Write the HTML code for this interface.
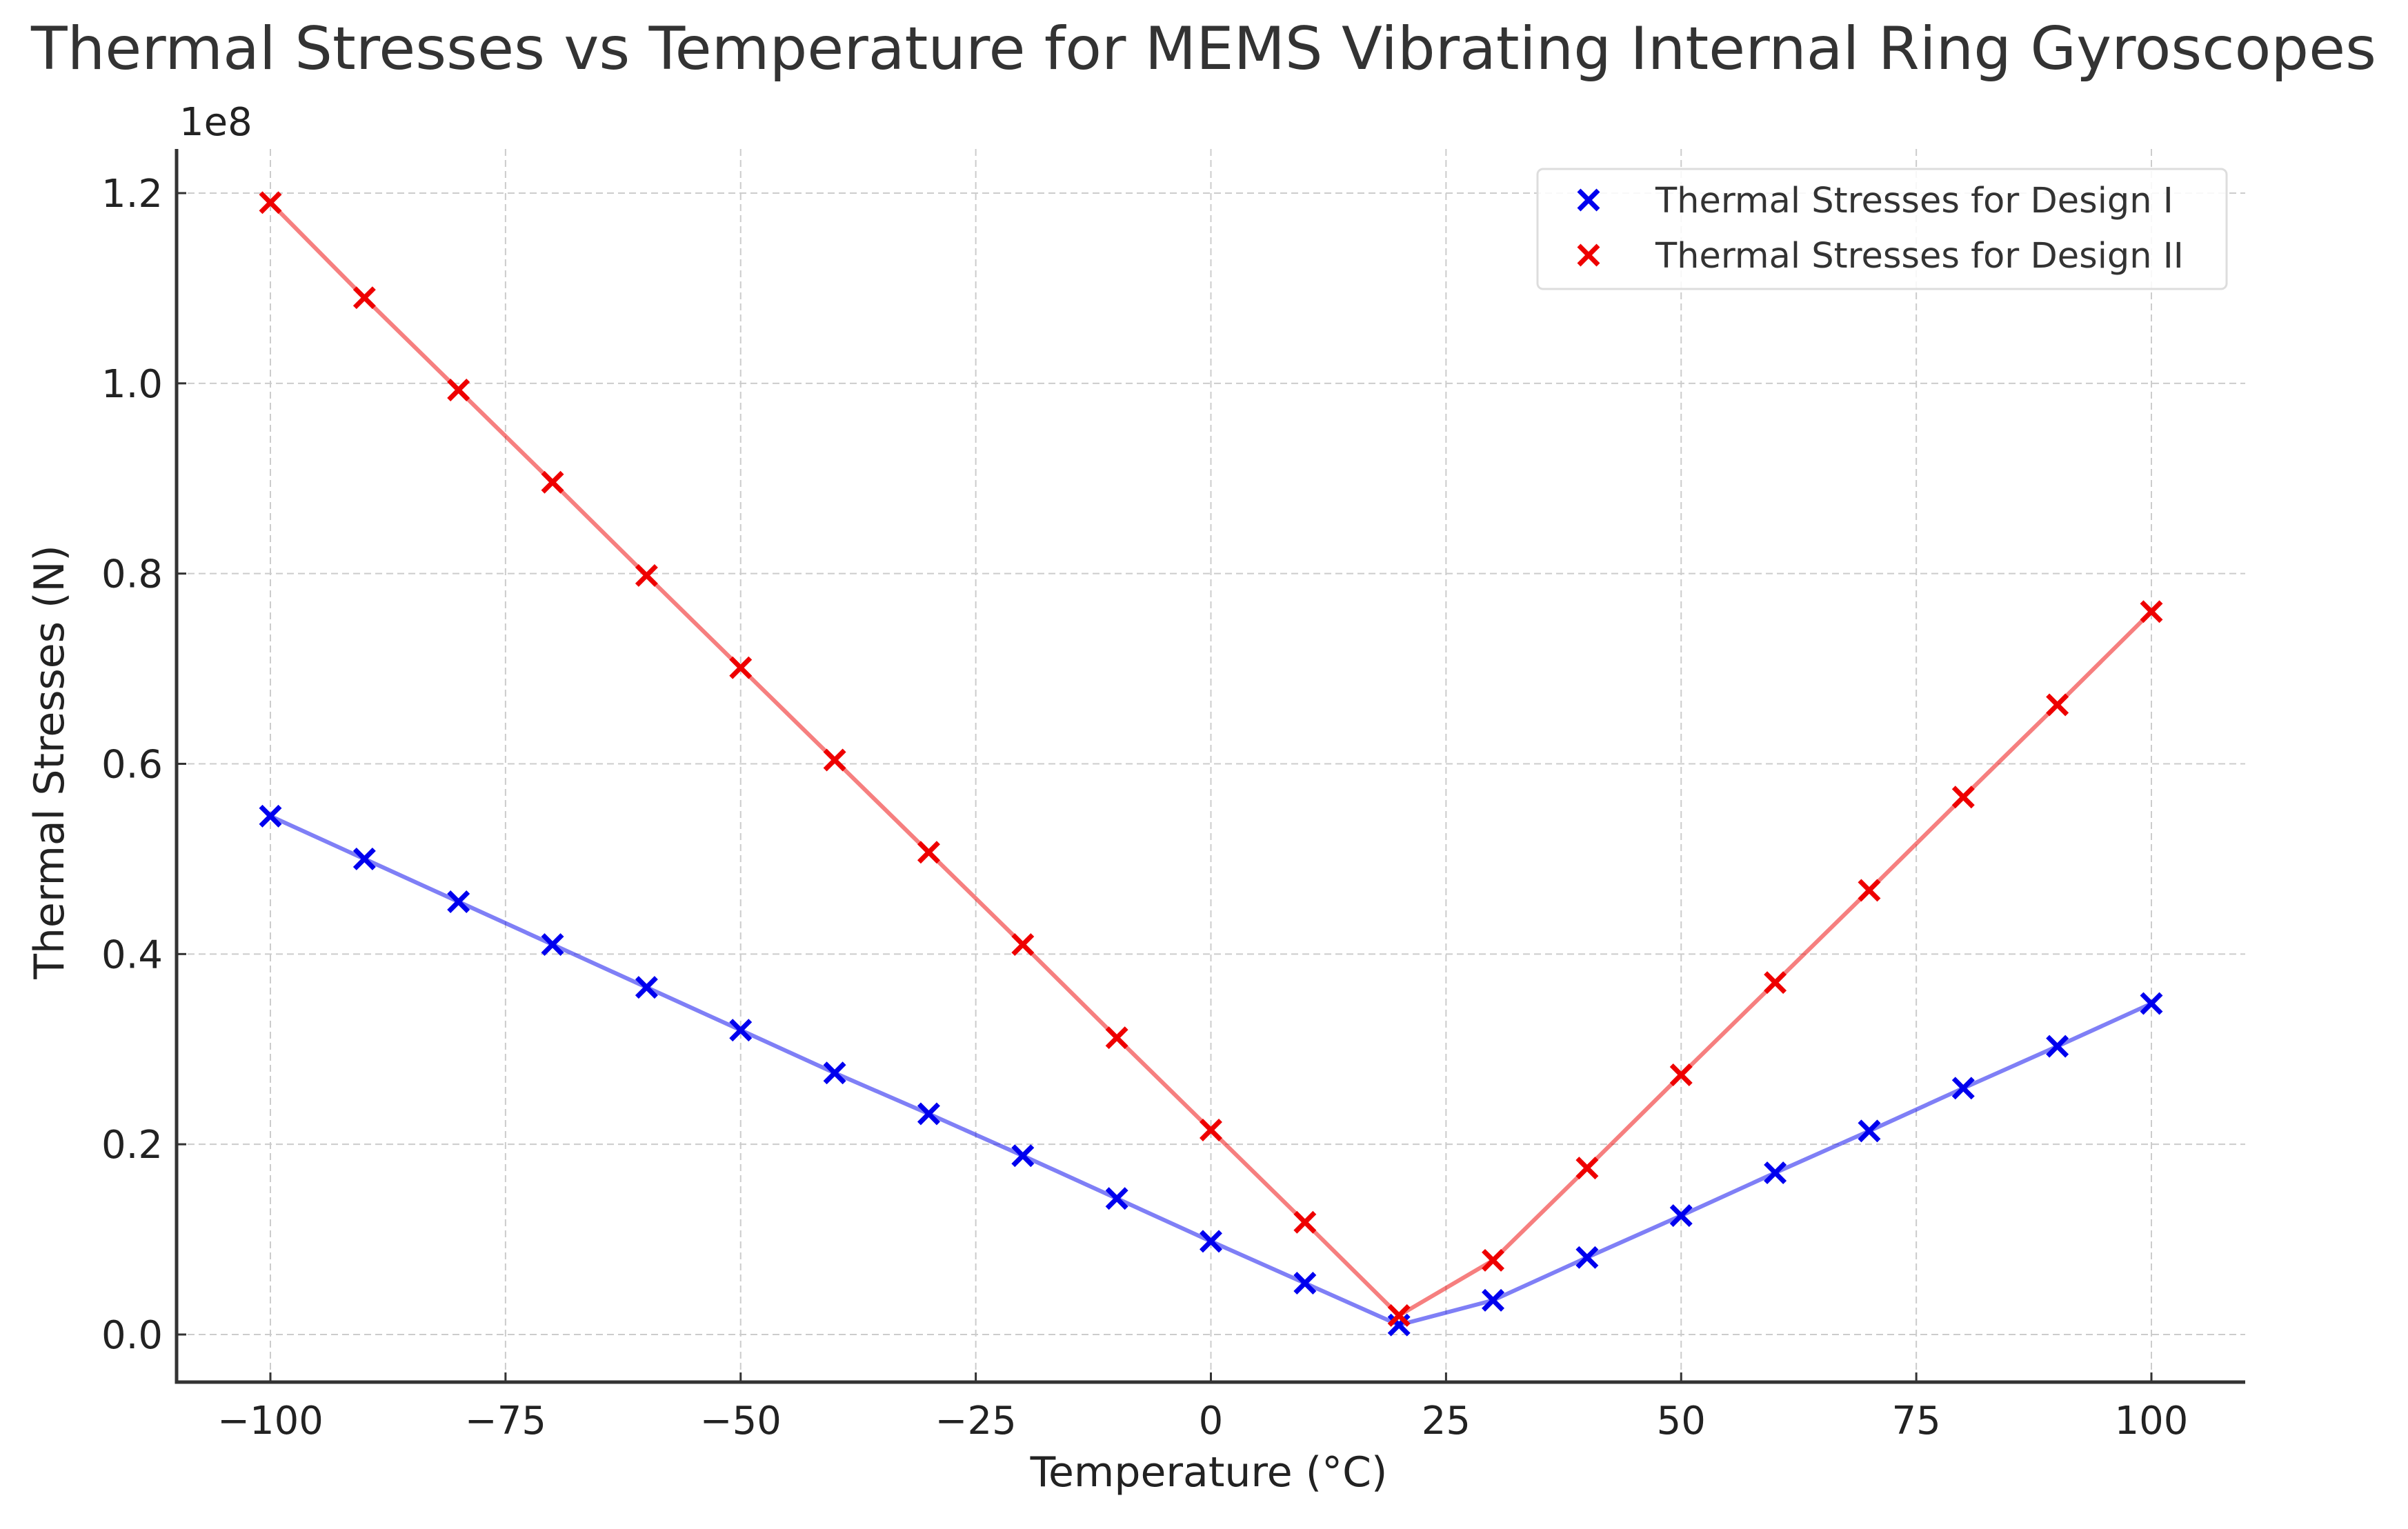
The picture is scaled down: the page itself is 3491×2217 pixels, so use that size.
<!DOCTYPE html>
<html><head><meta charset="utf-8"><style>
html,body{margin:0;padding:0;background:#fff;}
svg{display:block;font-family:"DejaVu Sans","Liberation Sans",sans-serif;}
</style></head><body>
<svg id="chart" width="3491" height="2217" viewBox="0 0 3491 2217" xmlns="http://www.w3.org/2000/svg">
<rect x="0" y="0" width="3491" height="2217" fill="#fff"/>
<text x="1745" y="100" text-anchor="middle" font-size="86" fill="#333" textLength="3400" lengthAdjust="spacingAndGlyphs">Thermal Stresses vs Temperature for MEMS Vibrating Internal Ring Gyroscopes</text>
<g id="grid"></g>
<g id="series"></g>
<g id="axes"></g>
</svg>
<script>
const temps = [-100,-90,-80,-70,-60,-50,-40,-30,-20,-10,0,10,20,30,40,50,60,70,80,90,100];
const design1 = [0.545,0.50,0.455,0.41,0.365,0.32,0.275,0.232,0.188,0.143,0.098,0.054,0.01,0.036,0.081,0.125,0.17,0.214,0.259,0.303,0.348];
const design2 = [1.19,1.09,0.993,0.896,0.798,0.701,0.604,0.507,0.41,0.312,0.215,0.118,0.02,0.078,0.175,0.273,0.37,0.467,0.565,0.662,0.76];
const xTicks = [-100,-75,-50,-25,0,25,50,75,100];
const xTickLabels = ["\u2212100","\u221275","\u221250","\u221225","0","25","50","75","100"];
const yTicks = [0,0.2,0.4,0.6,0.8,1.0,1.2];
const yTickLabels = ["0.0","0.2","0.4","0.6","0.8","1.0","1.2"];

const NS="http://www.w3.org/2000/svg";
const L=256,R=3255,T=216,B=2004;
function xs(v){return 392+(v+100)/200*(3119-392);}
function ys(v){return 1935-v/1.2*(1935-280);}
function mk(tag,attrs,parent){const e=document.createElementNS(NS,tag);for(const k in attrs)e.setAttribute(k,attrs[k]);parent.appendChild(e);return e;}
const grid=document.getElementById('grid'),series=document.getElementById('series'),axes=document.getElementById('axes');

xTicks.forEach((t,i)=>{
  const g=mk('line',{x1:xs(t),x2:xs(t),y1:T,y2:B,stroke:'#ccc','stroke-width':2,'stroke-dasharray':'10,6'},grid);
  
  
  const tk=mk('line',{x1:xs(t),x2:xs(t),y1:B,y2:B-14,stroke:'#333','stroke-width':3},axes);
  
  
  const tx=mk('text',{x:xs(t),y:B+75,'text-anchor':'middle','font-size':56,fill:'#222'},axes);
  tx.textContent=xTickLabels[i];
  
  
});
yTicks.forEach((t,i)=>{
  const g=mk('line',{x1:L,x2:R,y1:ys(t),y2:ys(t),stroke:'#ccc','stroke-width':2,'stroke-dasharray':'10,6'},grid);
  
  
  const tk=mk('line',{x1:L,x2:L+14,y1:ys(t),y2:ys(t),stroke:'#333','stroke-width':3},axes);
  
  
  const tx=mk('text',{x:L-20,y:ys(t)+20,'text-anchor':'end','font-size':56,fill:'#222'},axes);
  tx.textContent=yTickLabels[i];
  
  
});
const ax=mk('path',{d:`M${L},${T} L${L},${B} L${R},${B}`,fill:'none',stroke:'#333','stroke-width':5},axes);


const off=mk('text',{x:L+4,y:196,'font-size':56,fill:'#222'},axes);off.textContent='1e8';


const xl=mk('text',{x:(L+R)/2-3,y:2155,'text-anchor':'middle','font-size':60,fill:'#222'},axes);xl.textContent='Temperature (\u00B0C)';


const yl=mk('text',{x:0,y:0,'text-anchor':'middle','font-size':60,fill:'#222',transform:`translate(92,${(T+B)/2-5}) rotate(-90)`},axes);yl.textContent='Thermal Stresses (N)';



function drawSeries(vals,color,name){
  const d=vals.map((v,i)=>(i?'L':'M')+xs(temps[i])+','+ys(v)).join(' ');
  const p=mk('path',{d:d,fill:'none',stroke:color,'stroke-width':6,'stroke-opacity':0.5},series);
  
  
  vals.forEach((v,i)=>{
    const x=xs(temps[i]),y=ys(v),s=14;
    const m=mk('path',{d:`M${x-s},${y-s}L${x+s},${y+s}M${x-s},${y+s}L${x+s},${y-s}`,stroke:color,'stroke-width':7},series);
    
    
  });
}
drawSeries(design1,'#0000ee','design-1');
drawSeries(design2,'#ee0000','design-2');

// legend
const lg=mk('g',{},axes);


mk('rect',{x:2229,y:245,width:999,height:174,rx:8,fill:'#fff','fill-opacity':0.85,stroke:'#ddd','stroke-width':3},lg);
[['Thermal Stresses for Design I','#0000ee',290],['Thermal Stresses for Design II','#ee0000',370]].forEach(([t,c,y])=>{
  const s=14,x=2303;
  const m=mk('path',{d:`M${x-s},${y-s}L${x+s},${y+s}M${x-s},${y+s}L${x+s},${y-s}`,stroke:c,'stroke-width':7},lg);
  
  
  const tx=mk('text',{x:2400,y:y+18,'font-size':51,fill:'#333'},lg);tx.textContent=t;
  
  
});
</script>
</body></html>
